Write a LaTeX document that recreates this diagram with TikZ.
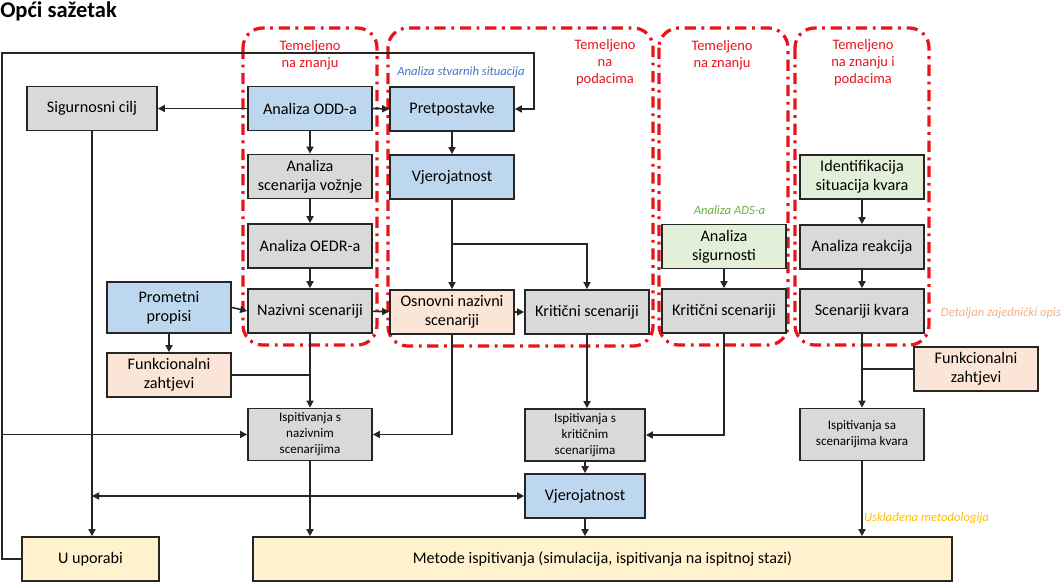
\documentclass[tikz,border=0pt]{standalone}
\usepackage{fontspec}
\setmainfont{Carlito}
\usetikzlibrary{arrows.meta,positioning}

\definecolor{boxgray}{HTML}{D9D9D9}
\definecolor{boxblue}{HTML}{BDD7EE}
\definecolor{boxpeach}{HTML}{FBE5D6}
\definecolor{boxgreen}{HTML}{E2F0D9}
\definecolor{boxyellow}{HTML}{FFF2CC}
\definecolor{grpred}{RGB}{232,20,28}
\definecolor{notblue}{HTML}{4472C4}
\definecolor{notgreen}{HTML}{70AD47}
\definecolor{notpeach}{HTML}{F4B183}
\definecolor{notgold}{HTML}{FFC000}

\begin{document}
\begin{tikzpicture}[
    x=0.025cm, y=-0.025cm,
    box/.style={draw=black!85, line width=1.2pt, minimum width=3.1cm, minimum height=1.1cm, align=center, inner sep=2pt, font=\fontsize{11.5}{13.6}\selectfont},
    gry/.style={box, fill=boxgray},
    blu/.style={box, fill=boxblue},
    pch/.style={box, fill=boxpeach},
    grn/.style={box, fill=boxgreen},
    ylw/.style={box, fill=boxyellow},
    tst/.style={gry, minimum height=1.3cm, font=\fontsize{9.3}{11.4}\selectfont},
    grp/.style={draw=grpred, line width=2.3pt, rounded corners=14pt, dash pattern=on 8pt off 4pt on 2pt off 4pt},
    grplbl/.style={text=grpred, align=center, font=\fontsize{10.3}{12}\selectfont},
    note/.style={font=\fontsize{9}{11}\selectfont\itshape},
    arr/.style={-{Triangle[length=5pt,width=5pt]}, line width=1.1pt, draw=black!85},
    arr2/.style={{Triangle[length=5pt,width=5pt]}-{Triangle[length=5pt,width=5pt]}, line width=1.1pt, draw=black!85},
    lin/.style={line width=1.1pt, draw=black!85}
]
\useasboundingbox (0,0) rectangle (1061,582);

% title
\node[anchor=west, inner sep=0pt, font=\fontsize{16}{18}\selectfont\bfseries] (title) at (0,11) {Opći sažetak};

% groups
\draw[grp] (243,28) rectangle (377,345);
\draw[grp] (388,28) rectangle (653,346);
\draw[grp] (659,28) rectangle (788,345);
\draw[grp] (795,28) rectangle (929,345);
\node[grplbl] (lbl1) at (310,55) {Temeljeno\\na znanju};
\node[grplbl] (lbl2) at (605,63) {Temeljeno\\na\\podacima};
\node[grplbl] (lbl3) at (722,55) {Temeljeno\\na znanju};
\node[grplbl] (lbl4) at (863,63) {Temeljeno\\na znanju i\\podacima};

% notes
\node[note, text=notblue] (n1) at (461,72) {Analiza stvarnih situacija};
\node[note, text=notgreen] (n2) at (729.5,210) {Analiza ADS-a};
\node[note, text=notpeach] (n3) at (1001,313) {Detaljan zajednički opis};
\node[note, text=notgold] (n4) at (926.5,518) {Usklađena metodologija};

% boxes
\node[gry, minimum width=3.25cm] (sig) at (92,108.5) {Sigurnosni cilj};
\node[blu] (odd) at (310,108.5) {Analiza ODD-a};
\node[blu] (pret) at (452,109) {Pretpostavke};
\node[gry] (asv) at (310,176.5) {Analiza\\scenarija vožnje};
\node[blu] (vjer1) at (452,177) {Vjerojatnost};
\node[gry] (oedr) at (310,246) {Analiza OEDR-a};
\node[gry] (naz) at (310,311) {Nazivni scenariji};
\node[blu, minimum height=1.275cm] (prom) at (169,307.5) {Prometni\\propisi};
\node[pch] (funk1) at (169,375) {Funkcionalni\\zahtjevi};
\node[pch] (osn) at (452,312) {Osnovni nazivni\\scenariji};
\node[gry] (krit1) at (587,312) {Kritični scenariji};
\node[grn] (asig) at (724,246.5) {Analiza\\sigurnosti};
\node[gry] (krit2) at (724,311) {Kritični scenariji};
\node[grn] (ident) at (862,177) {Identifikacija\\situacija kvara};
\node[gry] (reak) at (862,247) {Analiza reakcija};
\node[gry] (skv) at (862,311) {Scenariji kvara};
\node[pch] (funk2) at (976,369) {Funkcionalni\\zahtjevi};
\node[tst] (isp1) at (310,434.5) {Ispitivanja s\\nazivnim\\scenarijima};
\node[tst, minimum width=3cm] (isp2) at (585,435) {Ispitivanja s\\kritičnim\\scenarijima};
\node[tst] (isp3) at (862,434.5) {Ispitivanja sa\\scenarijima kvara};
\node[blu, minimum width=3cm] (vjer2) at (585,496) {Vjerojatnost};
\node[ylw, minimum width=3.425cm] (uupo) at (90.5,559) {U uporabi};
\node[ylw, minimum width=17.475cm] (met) at (602.5,559) {Metode ispitivanja (simulacija, ispitivanja na ispitnoj stazi)};

% helper points
\coordinate (loopL) at (2,53);
\coordinate (loopR) at (534,53);
\coordinate (split) at (452,244);

% connectors
\draw[arr] (odd.west) -- (sig.east);
\draw[arr] (odd.east) -- (pret.west);
\draw[arr] (uupo.west) -| (loopL) -- (loopR) |- (pret.east);
\draw[arr] (loopL |- isp1.west) -- (isp1.west);
\draw[arr] (odd) -- (asv);
\draw[arr] (asv) -- (oedr);
\draw[arr] (oedr) -- (naz);
\draw[arr] (pret) -- (vjer1);
\draw[arr] (vjer1) -- (osn);
\draw[arr] (split) -| (krit1.north);
\draw[arr] (osn) -- (krit1);
\draw[arr] (naz) -- (osn);
\draw[arr] (prom.east) -- (naz.west);
\draw[arr] (prom) -- (funk1);
\draw[arr] (naz) -- (isp1);
\draw[lin] (funk1.east) -- (naz.south |- funk1.east);
\draw[arr] (osn.south) |- (isp1.east);
\draw[arr] (sig.south) -- (sig.south |- uupo.north);
\draw[arr2] (sig.south |- vjer2.west) -- (vjer2.west);
\draw[arr] (isp1.south) -- (isp1.south |- met.north);
\draw[arr] (krit1.south) -- (krit1.south |- isp2.north);
\draw[arr] (krit2.south) |- (isp2.east);
\draw[arr] (isp2) -- (vjer2);
\draw[arr] (vjer2.south) -- (vjer2.south |- met.north);
\draw[arr] (asig) -- (krit2);
\draw[arr] (ident) -- (reak);
\draw[arr] (reak) -- (skv);
\draw[arr] (skv.south) -- (skv.south |- isp3.north);
\draw[lin] (funk2.west) -- (skv.south |- funk2.west);
\draw[arr] (isp3.south) -- (isp3.south |- met.north);
\end{tikzpicture}
\end{document}
